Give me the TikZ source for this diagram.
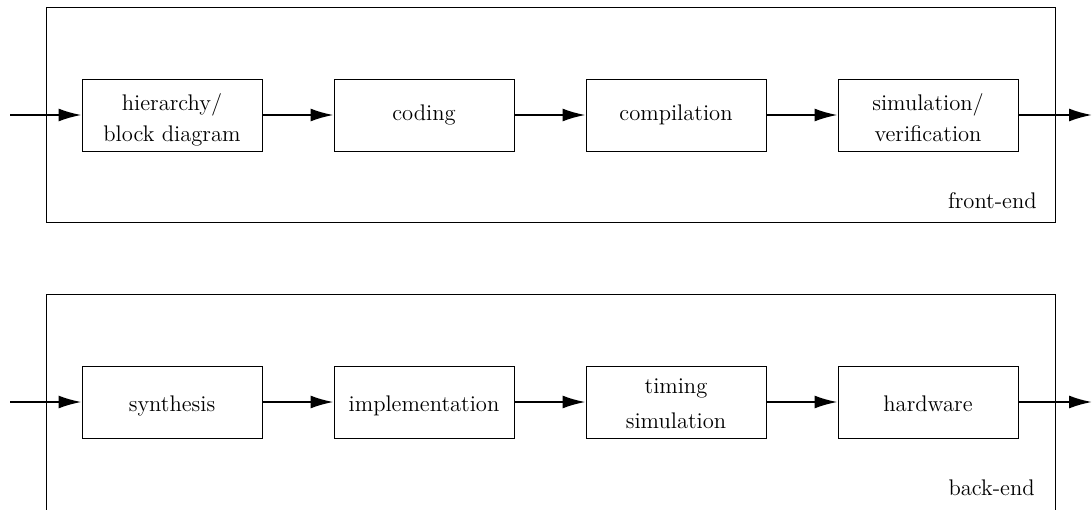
\documentclass[tikz,border=0pt]{standalone}
\usetikzlibrary{arrows.meta}
\begin{document}
\begin{tikzpicture}[x=0.5pt,y=-0.5pt,
  font=\fontsize{11.3}{13.6}\selectfont,
  stagebox/.style={draw,line width=0.5pt,minimum width=90pt,minimum height=36pt,align=center,inner sep=0pt},
  lowline/.style={text height=9pt,text depth=0pt},
  twoline/.style={text height=26.4pt,text depth=0pt},
  flow/.style={line width=1pt,-{Latex[length=11.5pt,width=6.5pt]}},
  frame/.style={draw,line width=0.5pt}]
\clip (0,0) rectangle (1092,509);
\useasboundingbox (0,0) rectangle (1092,509);
% outer frames
\draw[frame] (46,7) rectangle (1055,222);
\draw[frame] (46,520) -- (46,294) -- (1055,294) -- (1055,520);
\node[anchor=east,inner sep=0pt] (fe) at (1037,201) {front-end};
\node[anchor=east,inner sep=0pt] (be) at (1035,488) {back-end};
% top row
\coordinate (inA) at (10,115);
\coordinate (outA) at (1092,115);
\node[stagebox,twoline] (a1) at (172,115) {hierarchy/\\[1.9pt]block diagram};
\node[stagebox] (a2) at (424,115) {coding};
\node[stagebox] (a3) at (676,115) {compilation};
\node[stagebox,twoline] (a4) at (928,115) {simulation/\\[1.9pt]verification};
\draw[flow] (inA) -- (a1);
\draw[flow] (a1) -- (a2);
\draw[flow] (a2) -- (a3);
\draw[flow] (a3) -- (a4);
\draw[flow] (a4) -- (outA);
% bottom row
\coordinate (inB) at (10,402);
\coordinate (outB) at (1092,402);
\node[stagebox,lowline] (b1) at (172,402) {synthesis};
\node[stagebox,lowline] (b2) at (424,402) {implementation};
\node[stagebox,twoline] (b3) at (676,402) {timing\\[3.9pt]simulation};
\node[stagebox,lowline] (b4) at (928,402) {hardware};
\draw[flow] (inB) -- (b1);
\draw[flow] (b1) -- (b2);
\draw[flow] (b2) -- (b3);
\draw[flow] (b3) -- (b4);
\draw[flow] (b4) -- (outB);
\end{tikzpicture}
\end{document}
